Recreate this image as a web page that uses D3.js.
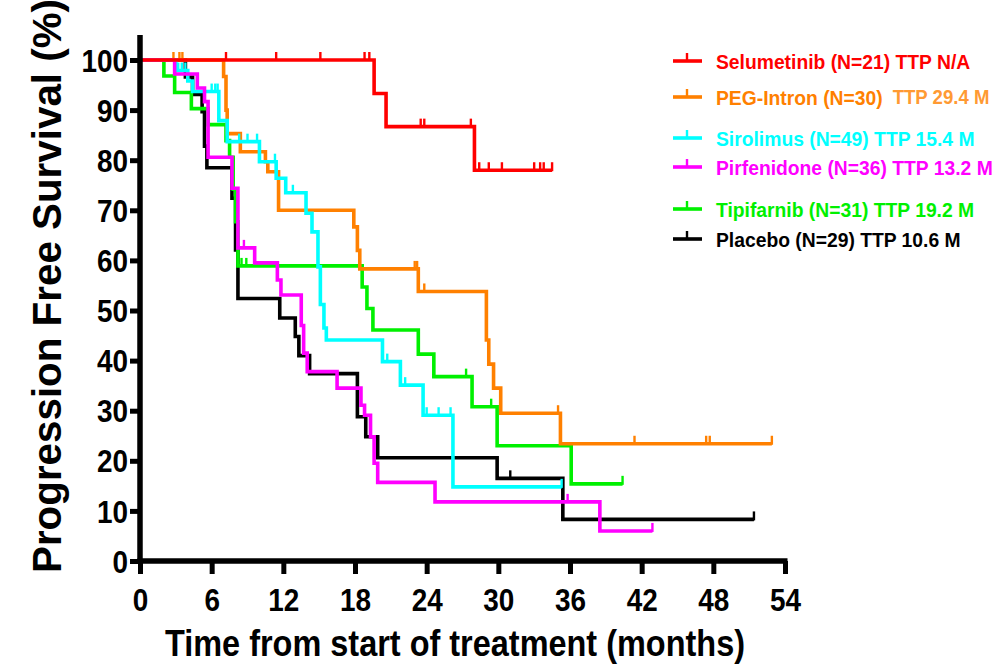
<!DOCTYPE html>
<html>
<head>
<meta charset="utf-8">
<script src="https://cdn.jsdelivr.net/npm/d3@7"></script>
<style>
  body { margin: 0; background: #fff; }
  svg { display: block; }
  text { font-family: "Liberation Sans", Arial, Helvetica, sans-serif; font-weight: bold; }
</style>
</head>
<body>
<svg id="chart" width="998" height="670"></svg>
<script>
// ---- Kaplan-Meier data: time (months) at which each step starts, and PFS (%) after the step ----
const selumetinibTimes = [0, 19.6, 20.6, 28.0];
const selumetinibPFS   = [100, 93.3, 86.7, 78.0];
const selumetinibEnd   = 34.5;
const selumetinibCensored = [7.2, 11.4, 15.1, 18.8, 19.2, 23.5, 23.8, 27.7, 28.4, 29.2, 30.3, 33.0, 33.5, 33.8, 34.5];

const pegIntronTimes = [0, 7.0, 7.2, 7.3, 8.4, 10.5, 10.7, 11.6, 17.9, 18.2, 18.4, 23.3, 29.0, 29.2, 29.6, 30.2, 35.2];
const pegIntronPFS   = [100, 96.7, 90.0, 85.3, 81.7, 79.7, 77.7, 70.0, 66.7, 62.0, 58.3, 53.8, 44.1, 39.3, 34.5, 29.5, 23.4];
const pegIntronEnd   = 52.9;
const pegIntronCensored = [2.8, 3.3, 3.55, 23.0, 23.2, 23.8, 35.0, 41.4, 47.4, 47.7, 52.9];

const sirolimusTimes = [0, 3.0, 4.0, 4.4, 6.6, 7.3, 10.0, 11.4, 12.2, 13.9, 14.4, 14.9, 15.1, 15.4, 15.6, 20.3, 21.8, 23.7, 26.2];
const sirolimusPFS   = [100, 97.9, 95.8, 93.7, 87.9, 83.7, 79.7, 76.4, 73.5, 69.4, 65.7, 58.7, 51.2, 46.5, 44.1, 39.8, 35.1, 29.1, 14.8];
const sirolimusEnd   = 35.3;
const sirolimusCensored = [3.2, 3.5, 3.8, 6.0, 6.3, 6.5, 8.3, 9.0, 9.8, 11.3, 12.8, 20.7, 22.2, 24.0, 25.0, 26.0, 35.3];

const pirfenidoneTimes = [0, 2.9, 4.8, 5.4, 5.7, 7.7, 8.2, 9.6, 11.5, 11.8, 13.5, 13.7, 14.0, 16.5, 18.5, 18.8, 19.3, 19.6, 19.9, 24.7, 38.5];
const pirfenidonePFS   = [100, 97.2, 94.4, 91.7, 80.6, 74.4, 62.5, 59.5, 56.1, 53.1, 47.0, 41.5, 37.8, 34.5, 31.1, 29.1, 24.8, 19.5, 15.7, 11.8, 6.0];
const pirfenidoneEnd   = 42.9;
const pirfenidoneCensored = [8.7, 35.8, 42.9];

const tipifarnibTimes = [0, 2.0, 2.9, 4.3, 5.7, 7.2, 7.5, 7.8, 8.0, 8.2, 18.6, 19.0, 19.5, 23.3, 24.6, 27.8, 29.9, 36.1];
const tipifarnibPFS   = [100, 96.8, 93.5, 90.3, 87.1, 83.9, 80.6, 74.2, 67.7, 58.9, 54.7, 50.4, 46.1, 41.3, 36.8, 30.8, 23.0, 15.4];
const tipifarnibEnd   = 40.4;
const tipifarnibCensored = [8.5, 8.9, 27.3, 29.4, 40.4];

const placeboTimes = [0, 3.8, 4.4, 5.2, 5.4, 5.6, 7.7, 8.0, 8.2, 11.7, 13.0, 13.3, 14.2, 18.2, 18.9, 19.9, 29.9, 35.4];
const placeboPFS   = [100, 96.6, 93.1, 89.7, 82.8, 78.5, 72.4, 62.1, 52.4, 48.5, 44.8, 41.0, 37.4, 28.8, 24.8, 20.6, 16.5, 8.3];
const placeboEnd   = 51.4;
const placeboCensored = [31.0, 51.4];

// Legend labels: treatment name + N, and median time to progression
const legendNames = ["Selumetinib (N=21)", "PEG-Intron (N=30)", "Sirolimus (N=49)", "Pirfenidone (N=36)", "Tipifarnib (N=31)", "Placebo (N=29)"];
const legendTTP   = ["TTP N/A", "TTP 29.4 M", "TTP 15.4 M", "TTP 13.2 M", "TTP 19.2 M", "TTP 10.6 M"];

// Axis ticks
const xTicks = [0, 6, 12, 18, 24, 30, 36, 42, 48, 54];
const yTicks = [0, 10, 20, 30, 40, 50, 60, 70, 80, 90, 100];

// ---- styling ----
const colors = ["#ff0000", "#ff8000", "#00ffff", "#ff00ff", "#00f000", "#000000"];
const ttpColors = ["#ff0000", "#ff9a33", "#00ffff", "#ff00ff", "#00f000", "#000000"];

const series = [
  { times: selumetinibTimes, pfs: selumetinibPFS, end: selumetinibEnd, cens: selumetinibCensored },
  { times: pegIntronTimes, pfs: pegIntronPFS, end: pegIntronEnd, cens: pegIntronCensored },
  { times: sirolimusTimes, pfs: sirolimusPFS, end: sirolimusEnd, cens: sirolimusCensored },
  { times: pirfenidoneTimes, pfs: pirfenidonePFS, end: pirfenidoneEnd, cens: pirfenidoneCensored },
  { times: tipifarnibTimes, pfs: tipifarnibPFS, end: tipifarnibEnd, cens: tipifarnibCensored },
  { times: placeboTimes, pfs: placeboPFS, end: placeboEnd, cens: placeboCensored }
].map((s, i) => ({ ...s, color: colors[i], name: legendNames[i], ttp: legendTTP[i], ttpColor: ttpColors[i] }));

const svg = d3.select("#chart");
const x = d3.scaleLinear().domain([0, 54]).range([140, 785]);
const y = d3.scaleLinear().domain([0, 100]).range([561, 60]);

// survival value of a step function at time t
function survivalAt(s, t) {
  let v = s.pfs[0];
  for (let i = 0; i < s.times.length; i++) if (s.times[i] <= t) v = s.pfs[i];
  return v;
}

// ---- curves (drawn back to front) ----
const drawOrder = [5, 4, 1, 2, 3, 0];
const line = d3.line().x(d => x(d[0])).y(d => y(d[1])).curve(d3.curveStepAfter);
const curves = svg.append("g").attr("fill", "none");
drawOrder.forEach(i => {
  const s = series[i];
  const pts = s.times.map((t, k) => [t, s.pfs[k]]);
  pts.push([s.end, s.pfs[s.pfs.length - 1]]);
  const g = curves.append("g").attr("stroke", s.color);
  g.append("path").attr("d", line(pts)).attr("stroke-width", 3.6).attr("stroke-linejoin", "miter");
  g.selectAll("line.cens").data(s.cens).join("line")
    .attr("class", "cens")
    .attr("x1", d => x(d)).attr("x2", d => x(d))
    .attr("y1", d => y(survivalAt(s, d)) + 1)
    .attr("y2", d => y(survivalAt(s, d)) - 8)
    .attr("stroke-width", 2.4);
});

// ---- axes ----
const axisColor = "#000";
const yAxis = svg.append("g").attr("transform", `translate(${x(0)},0)`)
  .call(d3.axisLeft(y).tickValues(yTicks).tickSize(10).tickSizeOuter(0).tickPadding(3));
yAxis.select(".domain").remove();
yAxis.selectAll(".tick line").attr("stroke", axisColor).attr("stroke-width", 5);
yAxis.selectAll(".tick text")
  .attr("x", null).attr("dy", "0.36em")
  .attr("transform", "translate(-12,0) scale(0.9,1)")
  .attr("font-size", 31).attr("fill", "#000").attr("text-anchor", "end");
svg.append("line")
  .attr("x1", x(0)).attr("x2", x(0))
  .attr("y1", y(105)).attr("y2", y(0) + 2.5)
  .attr("stroke", axisColor).attr("stroke-width", 5.5);

const xAxis = svg.append("g").attr("transform", `translate(0,${y(0)})`)
  .call(d3.axisBottom(x).tickValues(xTicks).tickSize(13).tickSizeOuter(0));
xAxis.select(".domain").remove();
xAxis.selectAll(".tick line").attr("stroke", axisColor).attr("stroke-width", 5);
xAxis.selectAll(".tick text")
  .attr("y", null).attr("dy", null)
  .attr("transform", "translate(0,50) scale(0.9,1)")
  .attr("font-size", 31).attr("fill", "#000");
svg.append("line")
  .attr("x1", x(0) - 2.5).attr("x2", x(54) + 2.5)
  .attr("y1", y(0)).attr("y2", y(0))
  .attr("stroke", axisColor).attr("stroke-width", 5.5);

// ---- axis titles ----
svg.append("text")
  .attr("x", 455).attr("y", 656)
  .attr("text-anchor", "middle")
  .attr("font-size", 37)
  .attr("textLength", 580).attr("lengthAdjust", "spacingAndGlyphs")
  .text("Time from start of treatment (months)");

svg.append("text")
  .attr("transform", "translate(61,286) rotate(-90)")
  .attr("text-anchor", "middle")
  .attr("font-size", 40)
  .attr("textLength", 574).attr("lengthAdjust", "spacingAndGlyphs")
  .text("Progression Free Survival (%)");

// ---- legend ----
const legendRowY = [61, 97, 138, 167, 209, 239];
const legend = svg.append("g");
series.forEach((s, i) => {
  const ry = legendRowY[i];
  const row = legend.append("g").attr("transform", `translate(0,${ry})`);
  row.append("line").attr("x1", 673).attr("x2", 702).attr("y1", 0).attr("y2", 0)
    .attr("stroke", s.color).attr("stroke-width", 3.6);
  row.append("line").attr("x1", 687).attr("x2", 687).attr("y1", 0).attr("y2", -8)
    .attr("stroke", s.color).attr("stroke-width", 2.4);
  const t = row.append("text")
    .attr("transform", "translate(716,8) scale(0.965,1)")
    .attr("font-size", 20).attr("fill", s.color);
  if (i === 1) {
    t.text(s.name);
    const w = t.node().getComputedTextLength() * 0.965;
    row.append("text")
      .attr("transform", `translate(${716 + w + 10},7) scale(0.93,1)`)
      .attr("font-size", 20).attr("font-weight", "normal")
      .attr("fill", s.ttpColor)
      .text(s.ttp);
  } else {
    t.text(s.name + " " + s.ttp);
  }
});
</script>
</body>
</html>
